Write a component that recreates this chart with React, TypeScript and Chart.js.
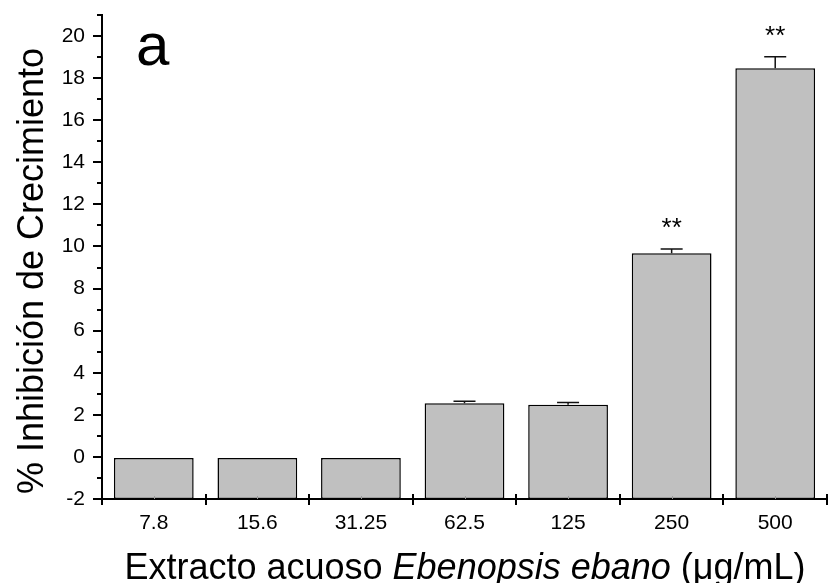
import React, { useEffect, useRef } from "react";
import { Chart, registerables } from "chart.js";

Chart.register(...registerables);

const categories = ["7.8", "15.6", "31.25", "62.5", "125", "250", "500"];
const inhibition = [-0.05, -0.05, -0.05, 2.55, 2.48, 9.68, 18.47];
const errorUp = [0, 0, 0, 0.1, 0.1, 0.2, 0.55];
const significance = ["", "", "", "", "", "**", "**"];
const yMin = -2;
const yMax = 21;
const yLabelValues = [-2, 0, 2, 4, 6, 8, 10, 12, 14, 16, 18, 20];

const FONT = "Arial, 'Liberation Sans', sans-serif";

const decorPlugin = {
  id: "decor",
  afterDatasetsDraw(chart: any) {
    const ctx = chart.ctx;
    const y = chart.scales.y;
    const meta = chart.getDatasetMeta(0);
    ctx.save();
    meta.data.forEach((bar: any, i: number) => {
      const top = y.getPixelForValue(inhibition[i]);
      const cap = y.getPixelForValue(inhibition[i] + errorUp[i]);
      if (errorUp[i] > 0) {
        ctx.strokeStyle = "#111";
        ctx.lineWidth = 1.5;
        ctx.beginPath();
        ctx.moveTo(bar.x, top);
        ctx.lineTo(bar.x, cap);
        ctx.moveTo(bar.x - 11, cap);
        ctx.lineTo(bar.x + 11, cap);
        ctx.stroke();
      }
      if (significance[i]) {
        ctx.fillStyle = "#000";
        ctx.font = `26px ${FONT}`;
        ctx.textAlign = "center";
        ctx.textBaseline = "alphabetic";
        ctx.fillText(significance[i], bar.x, cap - 13);
      }
    });
    ctx.restore();
  },
  afterDraw(chart: any) {
    const ctx = chart.ctx;
    const y = chart.scales.y;
    const x = chart.scales.x;
    const area = chart.chartArea;
    ctx.save();
    ctx.strokeStyle = "#000";
    ctx.lineWidth = 2;
    ctx.beginPath();
    for (let v = yMin; v <= yMax; v += 1) {
      const py = Math.round(y.getPixelForValue(v));
      const major = v % 2 === 0;
      ctx.moveTo(area.left, py);
      ctx.lineTo(area.left - (major ? 9 : 5), py);
    }
    const n = categories.length;
    const step = x.getPixelForValue(1) - x.getPixelForValue(0);
    for (let i = 0; i <= n; i++) {
      const px = i < n ? x.getPixelForValue(i) - step / 2 : x.getPixelForValue(n - 1) + step / 2;
      ctx.moveTo(Math.round(px), area.bottom - 5);
      ctx.lineTo(Math.round(px), area.bottom + 6);
    }
    ctx.stroke();
    ctx.strokeStyle = "#999";
    ctx.lineWidth = 1;
    ctx.beginPath();
    for (let i = 0; i < n; i++) {
      const px = Math.round(x.getPixelForValue(i)) + 0.5;
      ctx.moveTo(px, area.bottom - 3);
      ctx.lineTo(px, area.bottom);
    }
    ctx.stroke();

    ctx.fillStyle = "#000";
    ctx.font = `60px ${FONT}`;
    ctx.textAlign = "left";
    ctx.textBaseline = "alphabetic";
    ctx.fillText("a", 136, 65);

    const parts = [
      { t: "Extracto acuoso ", italic: false },
      { t: "Ebenopsis ebano", italic: true },
      { t: " (μg/mL)", italic: false },
    ];
    let total = 0;
    const widths = parts.map((p) => {
      ctx.font = `${p.italic ? "italic " : ""}36px ${FONT}`;
      const w = ctx.measureText(p.t).width;
      total += w;
      return w;
    });
    let cx = 465 - total / 2;
    parts.forEach((p, i) => {
      ctx.font = `${p.italic ? "italic " : ""}36px ${FONT}`;
      ctx.fillText(p.t, cx, 579);
      cx += widths[i];
    });

    ctx.translate(43, 271);
    ctx.rotate(-Math.PI / 2);
    ctx.font = `36px ${FONT}`;
    ctx.textAlign = "center";
    ctx.fillText("% Inhibición de Crecimiento", 0, 0);
    ctx.restore();
  },
};

export default function App() {
  const ref = useRef<HTMLCanvasElement>(null);
  useEffect(() => {
    const chart = new Chart(ref.current as HTMLCanvasElement, {
      type: "bar",
      data: {
        labels: categories,
        datasets: [
          {
            data: inhibition,
            base: yMin,
            backgroundColor: "#C0C0C0",
            borderColor: "#000",
            borderWidth: 1.5,
            borderSkipped: false,
            barPercentage: 0.77,
            categoryPercentage: 1,
          } as any,
        ],
      },
      options: {
        responsive: false,
        animation: false,
        layout: { padding: { top: 15, right: 2, left: 0, bottom: 0 } },
        plugins: { legend: { display: false }, tooltip: { enabled: false } },
        scales: {
          x: {
            offset: true,
            grid: { display: false },
            border: { display: true, color: "#000", width: 2 },
            ticks: {
              color: "#000",
              font: { family: FONT, size: 21 },
              padding: 4,
              maxRotation: 0,
            },
            afterFit(scale: any) {
              scale.height = 84;
              scale.paddingLeft = 0;
              scale.paddingRight = 0;
            },
          },
          y: {
            min: yMin,
            max: yMax,
            grid: { display: false },
            border: { display: true, color: "#000", width: 2 },
            afterBuildTicks(scale: any) {
              scale.ticks = yLabelValues.map((v) => ({ value: v }));
            },
            ticks: {
              color: "#000",
              font: { family: FONT, size: 21 },
              padding: 9,
              callback: (v: any) => String(v),
            },
            afterFit(scale: any) {
              scale.width = 102;
              scale.paddingTop = 0;
              scale.paddingBottom = 0;
            },
          },
        },
      },
      plugins: [decorPlugin],
    });
    return () => chart.destroy();
  }, []);
  return (
    <div style={{ position: "absolute", left: 0, top: 0, width: 829, height: 583, background: "#fff" }}>
      <canvas ref={ref} width={829} height={583} />
    </div>
  );
}
